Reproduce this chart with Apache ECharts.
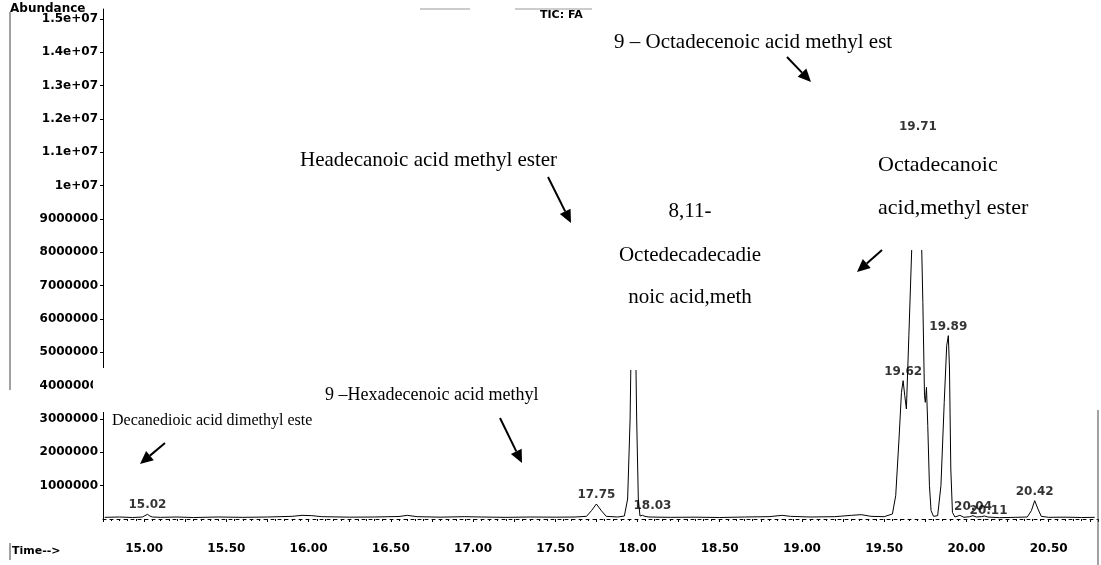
<!DOCTYPE html>
<html><head><meta charset="utf-8">
<script src="https://cdn.jsdelivr.net/npm/echarts@6/dist/echarts.min.js"></script>
<style>html,body{margin:0;padding:0;background:#fff}#c{width:1101px;height:565px}</style>
</head><body><div id="c"></div>
<script>
// ---- Data ----
const times = [14.76,14.85,14.93,14.99,15.005,15.02,15.035,15.05,15.10,15.20,15.30,15.45,15.60,15.75,15.90,15.96,16.02,16.08,16.25,16.40,16.55,16.60,16.66,16.80,16.95,17.05,17.20,17.35,17.50,17.62,17.69,17.72,17.75,17.78,17.81,17.88,17.92,17.94,17.955,17.965,17.975,17.985,17.995,18.005,18.015,18.03,18.045,18.07,18.20,18.35,18.50,18.65,18.80,18.88,18.93,19.05,19.20,19.30,19.36,19.42,19.50,19.55,19.57,19.59,19.605,19.615,19.625,19.635,19.65,19.67,19.69,19.705,19.72,19.735,19.745,19.75,19.757,19.765,19.775,19.785,19.80,19.825,19.845,19.865,19.88,19.89,19.897,19.905,19.915,19.93,19.96,19.985,20.02,20.04,20.06,20.09,20.11,20.13,20.20,20.30,20.37,20.395,20.415,20.435,20.455,20.50,20.60,20.70,20.78];
const abundance = [50000,60000,45000,60000,100000,140000,90000,60000,50000,60000,45000,60000,50000,60000,80000,110000,100000,70000,55000,60000,75000,110000,70000,55000,70000,60000,50000,60000,55000,60000,80000,250000,450000,250000,80000,60000,90000,600000,3000000,6500000,9000000,6500000,3000000,600000,90000,110000,80000,60000,50000,55000,45000,60000,70000,110000,80000,60000,70000,110000,130000,80000,70000,150000,700000,2400000,3800000,4150000,3700000,3300000,5500000,8500000,11000000,11500000,10000000,6500000,3700000,3500000,3950000,2800000,1000000,250000,80000,100000,1000000,3500000,5200000,5500000,4500000,1500000,200000,60000,110000,50000,70000,100000,60000,70000,90000,60000,40000,50000,60000,250000,550000,300000,80000,50000,55000,45000,50000];

const peakLabels = ['15.02','17.75','18.03','19.62','19.71','19.89','20.04','20.11','20.42'];
const peakTimes = [15.02,17.75,18.03,19.615,19.705,19.89,20.04,20.11,20.415];
const peakHeights = [140000,450000,110000,4150000,11500000,5500000,100000,90000,550000];

const yTickValues = [1e6,2e6,3e6,4e6,5e6,6e6,7e6,8e6,9e6,1e7,1.1e7,1.2e7,1.3e7,1.4e7,1.5e7];
const yTickLabels = ['1000000','2000000','3000000','4000000','5000000','6000000','7000000','8000000','9000000','1e+07','1.1e+07','1.2e+07','1.3e+07','1.4e+07','1.5e+07'];
const xTickValues = [15.0,15.5,16.0,16.5,17.0,17.5,18.0,18.5,19.0,19.5,20.0,20.5];
const xTickLabels = ['15.00','15.50','16.00','16.50','17.00','17.50','18.00','18.50','19.00','19.50','20.00','20.50'];

// ---- Build chart ----
const trace = times.map((t, i) => [t, abundance[i]]);
const labelOffsets = {2: [10, 0], 7: [4, 4]};
const peaks = peakTimes.map((t, i) => ({
  value: [t, peakHeights[i]],
  name: peakLabels[i],
  label: labelOffsets[i] ? {offset: labelOffsets[i]} : undefined
}));

const sansFont = '"DejaVu Sans", sans-serif';
const serif = '"Liberation Serif", "Times New Roman", serif';

function arrow(x1, y1, x2, y2) {
  const dx = x2 - x1, dy = y2 - y1, L = Math.hypot(dx, dy);
  const ux = dx / L, uy = dy / L, hl = 13, hw = 6;
  const bx = x2 - ux * hl, by = y2 - uy * hl;
  return [
    {type: 'line', z: 30, shape: {x1, y1, x2: bx, y2: by}, style: {stroke: '#000', lineWidth: 2}},
    {type: 'polygon', z: 30, shape: {points: [[x2, y2], [bx - uy * hw, by + ux * hw], [bx + uy * hw, by - ux * hw]]}, style: {fill: '#000'}}
  ];
}
function txt(text, x, y, font, align) {
  return {type: 'text', z: 30, style: {text, x, y, font, fill: '#000', textAlign: align || 'left', textVerticalAlign: 'middle'}};
}
function box(x, y, w, h) {
  return {type: 'rect', z: 10, shape: {x, y, width: w, height: h}, style: {fill: '#fff'}};
}

const graphics = [
  box(603, 185, 175, 185),
  box(868, 130, 175, 120),
  box(93, 368, 235, 24),
  box(99, 392, 8, 20),
  {type: 'line', z: 5, shape: {x1: 10, y1: 12, x2: 10, y2: 390}, style: {stroke: '#444', lineWidth: 1}},
  {type: 'line', z: 5, shape: {x1: 10, y1: 543, x2: 10, y2: 560}, style: {stroke: '#444', lineWidth: 1}},
  {type: 'line', z: 5, shape: {x1: 1098, y1: 410, x2: 1098, y2: 565}, style: {stroke: '#444', lineWidth: 1}},
  {type: 'line', z: 5, shape: {x1: 420, y1: 9, x2: 470, y2: 9}, style: {stroke: '#999', lineWidth: 1}},
  {type: 'line', z: 5, shape: {x1: 515, y1: 9, x2: 592, y2: 9}, style: {stroke: '#999', lineWidth: 1}},
  txt('Abundance', 10, 9, 'bold 12px ' + sansFont),
  txt('TIC: FA', 540, 15, 'bold 11px ' + sansFont),
  txt('Time-->', 12, 551, 'bold 11px ' + sansFont),
  txt('9 – Octadecenoic acid methyl est', 614, 42, '21px ' + serif),
  txt('Headecanoic acid methyl ester', 300, 160, '21px ' + serif),
  txt('8,11-', 690, 211, '21px ' + serif, 'center'),
  txt('Octedecadecadie', 690, 255, '21px ' + serif, 'center'),
  txt('noic acid,meth', 690, 297, '21px ' + serif, 'center'),
  txt('Octadecanoic', 878, 165, '22px ' + serif),
  txt('acid,methyl ester', 878, 208, '22px ' + serif),
  txt('9 –Hexadecenoic acid methyl', 325, 395, '18px ' + serif),
  txt('Decanedioic acid dimethyl este', 112, 421, '16px ' + serif),
  ...arrow(787, 57, 811, 82),
  ...arrow(548, 177, 571, 223),
  ...arrow(882, 250, 857, 272),
  ...arrow(500, 418, 522, 463),
  ...arrow(165, 443, 140, 464)
];

const chart = echarts.init(document.getElementById('c'), null, {renderer: 'canvas'});
chart.setOption({
  backgroundColor: '#fff',
  animation: false,
  grid: {left: 103, right: 3, top: 9, bottom: 46, containLabel: false},
  xAxis: {
    type: 'value', min: 14.75, max: 20.8, interval: 0.25,
    axisLine: {show: true, lineStyle: {color: '#000', width: 1, type: [3, 4]}},
    axisTick: {show: true, length: 3, lineStyle: {color: '#000'}},
    minorTick: {show: true, splitNumber: 5, length: 2, lineStyle: {color: '#000'}},
    splitLine: {show: false},
    axisLabel: {
      showMaxLabel: false, margin: 24, color: '#000', fontFamily: sansFont, fontWeight: 'bold', fontSize: 12,
      formatter: v => { const i = xTickValues.findIndex(x => Math.abs(x - v) < 1e-6); return i >= 0 ? xTickLabels[i] : ''; }
    }
  },
  yAxis: {
    type: 'value', min: 0, max: 15300000, interval: 1000000,
    axisLine: {show: true, lineStyle: {color: '#000', width: 1}},
    axisTick: {show: true, length: 3, lineStyle: {color: '#000'}},
    splitLine: {show: false},
    axisLabel: {
      showMaxLabel: false, showMinLabel: false, margin: 5, color: '#000', fontFamily: sansFont, fontWeight: 'bold', fontSize: 12,
      formatter: v => { const i = yTickValues.indexOf(v); return i >= 0 ? yTickLabels[i] : ''; }
    }
  },
  series: [
    {type: 'line', data: trace, showSymbol: false, symbol: 'none', z: 2,
     lineStyle: {color: '#000', width: 1}},
    {type: 'scatter', data: peaks, symbolSize: 0, z: 20,
     label: {show: true, position: 'top', distance: 3, formatter: p => p.name,
             color: '#000', fontFamily: sansFont, fontWeight: 'bold', fontSize: 12}}
  ],
  graphic: graphics
});
</script>
</body></html>
